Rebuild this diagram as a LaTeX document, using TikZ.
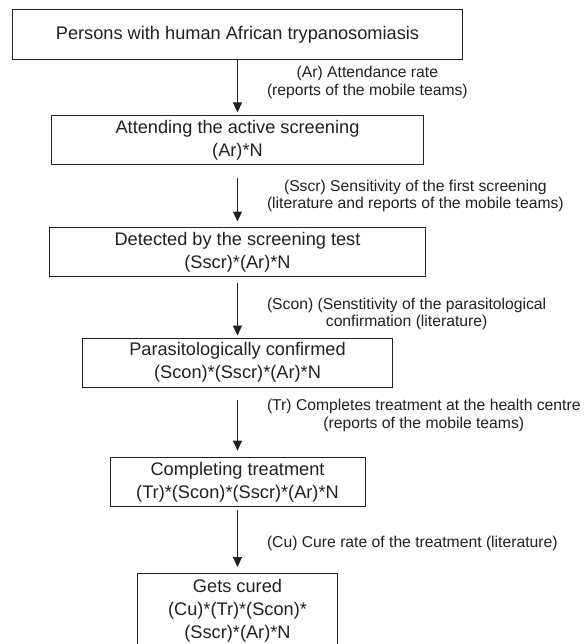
\documentclass[tikz,border=0pt]{standalone}
\usepackage{fontspec}
\setmainfont{Liberation Sans}
\usepackage{tikz}
\usetikzlibrary{arrows.meta}
\definecolor{inkcolor}{RGB}{35, 31, 32}

\begin{document}
\begin{tikzpicture}[x=1pt, y=-1pt, color=inkcolor, line width=1pt,
        stagebox/.style={draw, align=center, inner sep=0pt, minimum height=49pt,
            font=\fontsize{18.2}{23}\selectfont},
        ratelabel/.style={anchor=west, align=center, inner sep=0pt,
            font=\fontsize{15.7}{17.3}\selectfont},
        flow/.style={-{Triangle[width=9pt,length=10pt]}}]
        \useasboundingbox (0,0) rectangle (584,644);
        % stages
        \node[stagebox, minimum width=450.7pt, minimum height=50pt] (persons) at (237.5,34.3) {Persons with human African trypanosomiasis};
        \node[stagebox, minimum width=371.8pt] (attending) at (237.5,139.9) {Attending the active screening\\(Ar)*N};
        \node[stagebox, minimum width=375.7pt] (detected) at (237.5,252) {Detected by the screening test\\(Sscr)*(Ar)*N};
        \node[stagebox, minimum width=310.6pt] (confirmed) at (237.5,362.5) {Parasitologically confirmed\\(Scon)*(Sscr)*(Ar)*N};
        \node[stagebox, minimum width=255pt] (treated) at (237.5,482.2) {Completing treatment\\(Tr)*(Scon)*(Sscr)*(Ar)*N};
        \node[stagebox, minimum width=200.7pt, minimum height=75pt] (cured) at (237.5,611) {Gets cured\\(Cu)*(Tr)*(Scon)*\\(Sscr)*(Ar)*N};
        % arrows
        \draw[flow, shorten >=2.5pt] (persons) -- (attending);
        \draw[flow, shorten <=13pt, shorten >=5.5pt] (attending) -- (detected);
        \draw[flow, shorten <=6pt, shorten >=2pt] (detected) -- (confirmed);
        \draw[flow, shorten <=12.5pt, shorten >=6.5pt] (confirmed) -- (treated);
        \draw[flow, shorten <=3pt, shorten >=6pt] (treated) -- (cured);
        % rates
        \node[ratelabel] (ar) at (266.5,82.5) {(Ar) Attendance rate\\(reports of the mobile teams)};
        \node[ratelabel] (sscr) at (266.5,196) {(Sscr) Sensitivity of the first screening\\(literature and reports of the mobile teams)};
        \node[ratelabel] (scon) at (266.5,314) {(Scon) (Senstitivity of the parasitological\\confirmation (literature)};
        \node[ratelabel] (tr) at (266.5,415.5) {(Tr) Completes treatment at the health centre\\(reports of the mobile teams)};
        \node[ratelabel] (cu) at (266.5,543.5) {(Cu) Cure rate of the treatment (literature)};
\end{tikzpicture}
\end{document}
